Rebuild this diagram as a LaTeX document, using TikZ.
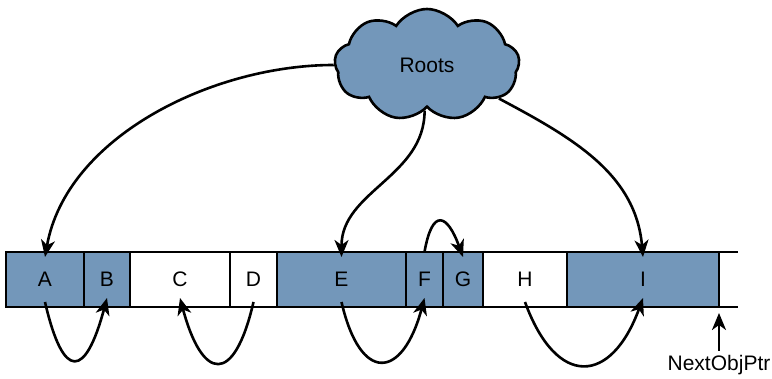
\documentclass[tikz,border=0pt]{standalone}
\usepackage{fontspec}
\setmainfont{Liberation Sans}
\usetikzlibrary{positioning,shapes.symbols,arrows.meta}
\definecolor{objblue}{RGB}{115,151,186}

\begin{document}
\begin{tikzpicture}[x=1pt,y=1pt,line width=2.6pt,
    every node/.style={font=\fontsize{21}{24}\selectfont},
    cell/.style={draw,rectangle,minimum height=55pt,inner sep=0pt,outer sep=0pt},
    live/.style={cell,fill=objblue},
    dead/.style={cell,fill=white},
    ptr/.style={-{Stealth[length=17pt,width=14pt,inset=5pt]}}]
  \useasboundingbox (0,0) rectangle (772,378);

  % heap cells, left to right
  \node[live,minimum width=78pt,anchor=west] (A) at (6,98.5) {A};
  \node[live,minimum width=46pt,right=0pt of A] (B) {B};
  \node[dead,minimum width=100pt,right=0pt of B] (C) {C};
  \node[dead,minimum width=47pt,right=0pt of C] (D) {D};
  \node[live,minimum width=129pt,right=0pt of D] (E) {E};
  \node[live,minimum width=37pt,right=0pt of E] (F) {F};
  \node[live,minimum width=40pt,right=0pt of F] (G) {G};
  \node[dead,minimum width=84pt,right=0pt of G] (H) {H};
  \node[live,minimum width=152pt,right=0pt of H] (I) {I};
  \draw (I.north east) -- ++(19,0);
  \draw (I.south east) -- ++(19,0);

  \node[cloud,draw,fill=objblue,cloud puffs=9,cloud puff arc=115,aspect=1.5,
        minimum width=185pt,minimum height=112pt,inner sep=0pt] (roots) at (427,313) {Roots};

  % references from the roots
  \draw[ptr] (roots.west) to[out=180,in=80,looseness=0.9] ([yshift=-5pt]A.north);
  \draw[ptr] (roots.-93) to[out=-90,in=90] ([yshift=-5pt]E.north);
  \draw[ptr] (roots.-25) to[out=-28,in=95] ([yshift=-5pt]I.north);

  % references between objects
  \draw[ptr] ([yshift=5pt]A.south) to[out=-77,in=-105,looseness=3.4] ([yshift=9pt]B.south);
  \draw[ptr] ([yshift=5pt]D.south) to[out=-103,in=-75,looseness=3] ([yshift=9pt]C.south);
  \draw[ptr] ([yshift=5pt]E.south) to[out=-77,in=-105,looseness=2.6] ([yshift=9pt]F.south);
  \draw[ptr] ([yshift=5pt]H.south) to[out=-70,in=-110,looseness=2] ([yshift=9pt]I.south);
  \draw[ptr] (F.north) to[out=80,in=110,looseness=3] ([yshift=-5pt]G.north);

  \node (nextptr) at (719,13) {NextObjPtr};
  \draw[ptr] (nextptr.north) -- ([yshift=-6pt]I.south east);
\end{tikzpicture}
\end{document}
